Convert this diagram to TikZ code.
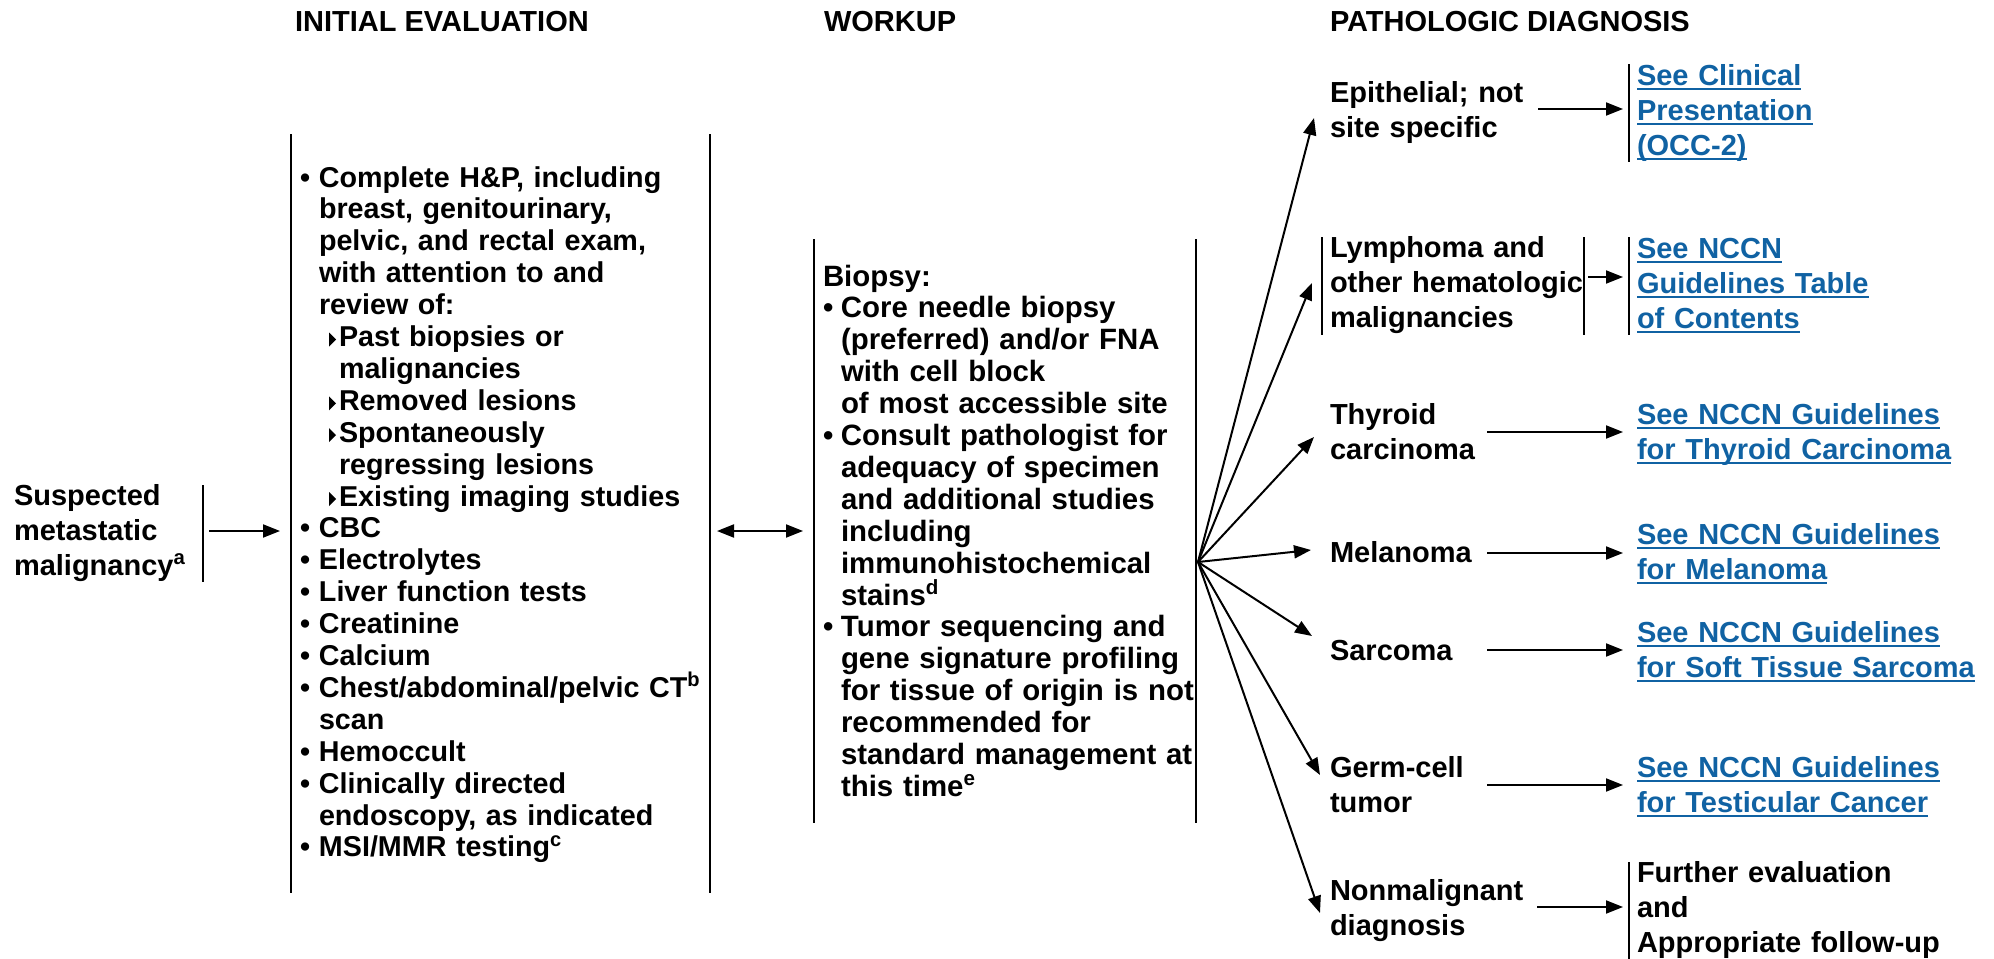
\documentclass[tikz,border=0pt]{standalone}
\usepackage{fontspec}
\setmainfont{Liberation Sans}
\usetikzlibrary{arrows.meta}
\definecolor{linkblue}{RGB}{16,98,163}

% underlined link text, rule at a fixed depth below the baseline
\newsavebox\lnkbox
\newcommand\lnk[1]{\leavevmode\sbox\lnkbox{#1}\rlap{\rule[-2.7pt]{\wd\lnkbox}{1pt}}\usebox\lnkbox}

% list markers for the evaluation column
\newcommand\pbul{\makebox[9.5pt][l]{\textbullet}}
\newcommand\pind{\hspace*{9.5pt}}
\newcommand\ptri{\makebox[19.5pt][l]{\hspace*{14.5pt}\tikz[baseline=0pt]\fill (0pt,0pt) -- (0pt,7pt) -- (3.5pt,3.5pt) -- cycle;}}
\newcommand\ptind{\hspace*{19.5pt}}
% list markers for the workup column
\newcommand\wbul{\makebox[9pt][l]{\textbullet}}
\newcommand\wind{\hspace*{9pt}}

\begin{document}
\begin{tikzpicture}[x=0.5pt,y=-0.5pt,
  every node/.style={inner sep=0pt,outer sep=0pt,anchor=base west},
  hdr/.style={font=\bfseries\fontsize{14.5pt}{17.5pt}\selectfont},
  evalbox/.style={font=\bfseries\fontsize{14.35pt}{15.95pt}\selectfont,text width=230pt,align=left},
  workbox/.style={font=\bfseries\fontsize{14.7pt}{15.95pt}\selectfont,text width=200pt,align=left},
  dx/.style={font=\bfseries\fontsize{14.5pt}{17.5pt}\selectfont,text width=140pt,align=left},
  linktext/.style={dx,text=linkblue,text width=180pt},
  bar/.style={line width=1.1pt},
  arr/.style={line width=1pt,-{Triangle[length=8.5pt,width=6.5pt]}},
  darr/.style={line width=1pt,{Triangle[length=8.5pt,width=6.5pt]}-{Triangle[length=8.5pt,width=6.5pt]}}]

\useasboundingbox (0,0) rectangle (1994,959);

% column headings
\node[hdr] (h1) at (295,31) {INITIAL EVALUATION};
\node[hdr] (h2) at (824,31) {WORKUP};
\node[hdr] (h3) at (1330,31) {PATHOLOGIC DIAGNOSIS};

% starting point
\node[dx] (susp) at (14,505) {Suspected\\metastatic\\malignancy\textsuperscript{a}};
\draw[bar] (203,485) -- (203,582);

% initial evaluation
\draw[bar] (291,134) -- (291,893);
\draw[bar] (710,134) -- (710,893);
\node[evalbox] (eval) at (300,187) {%
\pbul Complete H\&P, including\\
\pind breast, genitourinary,\\
\pind pelvic, and rectal exam,\\
\pind with attention to and\\
\pind review of:\\
\ptri Past biopsies or\\
\ptind malignancies\\
\ptri Removed lesions\\
\ptri Spontaneously\\
\ptind regressing lesions\\
\ptri Existing imaging studies\\
\pbul CBC\\
\pbul Electrolytes\\
\pbul Liver function tests\\
\pbul Creatinine\\
\pbul Calcium\\
\pbul Chest/abdominal/pelvic CT\textsuperscript{b}\\
\pind scan\\
\pbul Hemoccult\\
\pbul Clinically directed\\
\pind endoscopy, as indicated\\
\pbul MSI/MMR testing\textsuperscript{c}};

% workup
\draw[bar] (814,239) -- (814,823);
\draw[bar] (1196,239) -- (1196,823);
\node[workbox] (work) at (823,286) {%
Biopsy:\\
\wbul Core needle biopsy\\
\wind (preferred) and/or FNA\\
\wind with cell block\\
\wind of most accessible site\\
\wbul Consult pathologist for\\
\wind adequacy of specimen\\
\wind and additional studies\\
\wind including\\
\wind immunohistochemical\\
\wind stains\textsuperscript{d}\\
\wbul Tumor sequencing and\\
\wind gene signature profiling\\
\wind for tissue of origin is not\\
\wind recommended for\\
\wind standard management at\\
\wind this time\textsuperscript{e}};

% pathologic diagnoses
\node[dx] (epi) at (1330,102) {Epithelial; not\\site specific};
\node[dx] (lym) at (1330,257) {Lymphoma and\\other hematologic\\malignancies};
\draw[bar] (1322,237) -- (1322,335);
\draw[bar] (1584,237) -- (1584,335);
\node[dx] (thy) at (1330,424) {Thyroid\\carcinoma};
\node[dx] (mel) at (1330,562) {Melanoma};
\node[dx] (sar) at (1330,660) {Sarcoma};
\node[dx] (germ) at (1330,777) {Germ-cell\\tumor};
\node[dx] (non) at (1330,900) {Nonmalignant\\diagnosis};

% follow-on references
\node[linktext] (r1) at (1637,85) {\lnk{See Clinical}\\\lnk{Presentation}\\\lnk{(OCC-2)}};
\draw[bar] (1629,64) -- (1629,162);
\node[linktext] (r2) at (1637,258) {\lnk{See NCCN}\\\lnk{Guidelines Table}\\\lnk{of Contents}};
\draw[bar] (1629,237) -- (1629,335);
\node[linktext] (r3) at (1637,424) {\lnk{See NCCN Guidelines}\\\lnk{for Thyroid Carcinoma}};
\node[linktext] (r4) at (1637,544) {\lnk{See NCCN Guidelines}\\\lnk{for Melanoma}};
\node[linktext] (r5) at (1637,642) {\lnk{See NCCN Guidelines}\\\lnk{for Soft Tissue Sarcoma}};
\node[linktext] (r6) at (1637,777) {\lnk{See NCCN Guidelines}\\\lnk{for Testicular Cancer}};
\node[dx,text width=180pt] (r7) at (1637,882) {Further evaluation\\and\\Appropriate follow-up};
\draw[bar] (1629,862) -- (1629,959);

% connector end points
\coordinate (s0) at (209,531);   \coordinate (s1) at (280,531);
\coordinate (w0) at (717,531);   \coordinate (w1) at (803,531);
\coordinate (fan) at (1198,562);
\coordinate (t1) at (1314,118);
\coordinate (t2) at (1312,283);
\coordinate (t3) at (1314,437);
\coordinate (t4) at (1311,550);
\coordinate (t5) at (1312,636);
\coordinate (t6) at (1320,775);
\coordinate (t7) at (1320,913);
\coordinate (e0) at (1538,109);  \coordinate (e1) at (1623,109);
\coordinate (l0) at (1588,277);  \coordinate (l1) at (1623,277);
\coordinate (y0) at (1487,432);  \coordinate (y1) at (1623,432);
\coordinate (m0) at (1487,553);  \coordinate (m1) at (1623,553);
\coordinate (c0) at (1487,650);  \coordinate (c1) at (1623,650);
\coordinate (g0) at (1487,785);  \coordinate (g1) at (1623,785);
\coordinate (n0) at (1537,907);  \coordinate (n1) at (1623,907);

% connectors
\draw[arr] (s0) -- (s1);
\draw[darr] (w0) -- (w1);
\foreach \t in {t1,t2,t3,t4,t5,t6,t7} \draw[arr] (fan) -- (\t);
\draw[arr] (e0) -- (e1);
\draw[arr] (l0) -- (l1);
\draw[arr] (y0) -- (y1);
\draw[arr] (m0) -- (m1);
\draw[arr] (c0) -- (c1);
\draw[arr] (g0) -- (g1);
\draw[arr] (n0) -- (n1);
\end{tikzpicture}
\end{document}
